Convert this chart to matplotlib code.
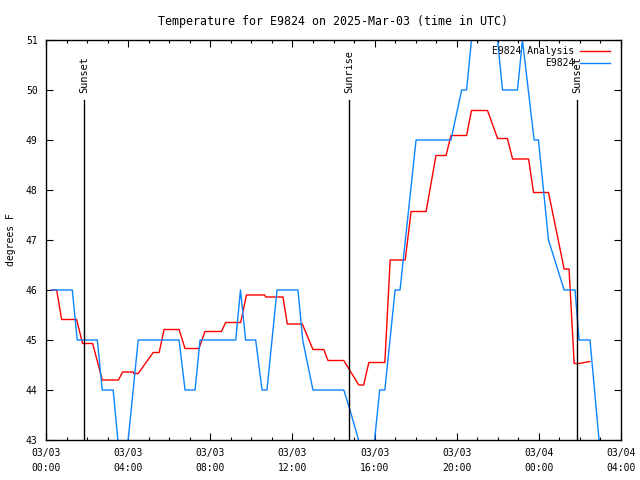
import datetime as dt
import matplotlib
matplotlib.use("Agg")
import matplotlib.pyplot as plt
import matplotlib.dates as mdates
import matplotlib.transforms as mtransforms

plt.rcParams["font.family"] = ["DejaVu Sans Mono"]
plt.rcParams["font.size"] = 7.0

BASE = dt.datetime(2025, 3, 3, 0, 0)

# hours after 03/03 00:00 UTC
analysis_h = [0.27, 0.52, 0.76, 1.49, 1.78, 2.27, 2.74, 3.53, 3.73, 4.25, 4.27,
              4.49, 5.22, 5.51, 5.75, 6.48, 6.77, 7.45, 7.74, 8.54, 8.75, 9.48,
              9.76, 10.65, 10.7, 11.54, 11.75, 12.48, 13.0, 13.53, 13.73, 14.5,
              15.23, 15.47, 15.72, 16.5, 16.76, 17.49, 17.78, 18.51, 18.99,
              19.48, 19.72, 20.48, 20.72, 21.5, 21.99, 22.47, 22.72, 23.5,
              23.74, 24.47, 25.23, 25.47, 25.72, 25.96, 26.48]
analysis_f = [46.0, 46.0, 45.41, 45.41, 44.93, 44.93, 44.2, 44.2, 44.36, 44.36,
              44.33, 44.33, 44.75, 44.75, 45.21, 45.21, 44.83, 44.83, 45.17,
              45.17, 45.35, 45.35, 45.9, 45.9, 45.86, 45.86, 45.32, 45.32,
              44.81, 44.81, 44.59, 44.59, 44.1, 44.1, 44.55, 44.55, 46.6, 46.6,
              47.57, 47.57, 48.69, 48.69, 49.09, 49.09, 49.59, 49.59, 49.03,
              49.03, 48.62, 48.62, 47.95, 47.95, 46.42, 46.42, 44.53, 44.53,
              44.57]

obs_h = [0.27, 1.28, 1.52, 2.5, 2.74, 3.27, 3.5, 3.75, 4.0, 4.49, 6.48, 6.77,
         7.26, 7.5, 9.24, 9.47, 9.72, 10.21, 10.52, 10.76, 11.25, 12.27, 12.5,
         13.0, 14.5, 14.76, 15.22, 15.75, 16.0, 16.25, 16.5, 17.0, 17.24,
         18.02, 19.72, 20.24, 20.48, 20.72, 20.96, 21.75, 21.99, 22.23, 22.96,
         23.2, 23.77, 23.98, 24.47, 25.23, 25.76, 25.96, 26.49, 26.93, 27.15]
obs_f = [46, 46, 45, 45, 44, 44, 43, 42, 43, 45, 45, 44, 44, 45, 45, 46, 45,
         45, 44, 44, 46, 46, 45, 44, 44, 43.66, 43, 42, 43, 44, 44, 46, 46, 49,
         49, 50, 50, 51, 52, 52, 51, 50, 50, 51, 49, 49, 47, 46, 46, 45, 45,
         43, 42]

events = ["Sunset", "Sunrise", "Sunset"]
event_h = [1.86, 14.77, 25.87]

tick_h = [0, 4, 8, 12, 16, 20, 24, 28]
tick_labels = ["03/03\n00:00", "03/03\n04:00", "03/03\n08:00", "03/03\n12:00",
               "03/03\n16:00", "03/03\n20:00", "03/04\n00:00", "03/04\n04:00"]


def to_time(hours):
    return [BASE + dt.timedelta(hours=h) for h in hours]


fig = plt.figure(figsize=(6.4, 4.8), dpi=100)
ax = fig.add_axes([46 / 640, 40 / 480, 575 / 640, 400 / 480])

ax.plot(to_time(analysis_h), analysis_f, color="#ff0000", lw=1.0,
        label="E9824 Analysis")
ax.plot(to_time(obs_h), obs_f, color="#0a84ff", lw=1.0, label="E9824")

trans = mtransforms.blended_transform_factory(ax.transData, ax.transAxes)
for name, t in zip(events, to_time(event_h)):
    ax.axvline(t, ymin=0, ymax=0.85, color="black", lw=1.0)
    ax.text(t, 0.868, name, transform=trans, rotation=90,
            ha="center", va="bottom", fontsize=7.4)

ax.set_xlim(to_time([0, 28]))
ax.set_ylim(43, 51)
ax.set_xticks(to_time(tick_h), tick_labels)
ax.xaxis.set_minor_locator(mdates.HourLocator())
ax.set_yticks(range(43, 52))
for lbl in ax.get_xticklabels():
    lbl.set_linespacing(1.6)

ax.tick_params(which="both", direction="in", top=True, right=True,
               width=0.8, colors="black")
ax.tick_params(which="major", length=5, pad=6)
ax.tick_params(which="minor", length=2.5)
for s in ax.spines.values():
    s.set_linewidth(1.0)

ax.set_title("Temperature for E9824 on 2025-Mar-03 (time in UTC)", pad=11)
ax.set_ylabel("degrees F", labelpad=7)

ax.legend(loc="upper right", bbox_to_anchor=(1 - 8 / 575, 1 - 3 / 400),
          frameon=False, markerfirst=False, handlelength=3.0,
          handletextpad=0.6, labelspacing=0.2, borderaxespad=0.0,
          borderpad=0.35)

fig.savefig("out.png", dpi=100)
